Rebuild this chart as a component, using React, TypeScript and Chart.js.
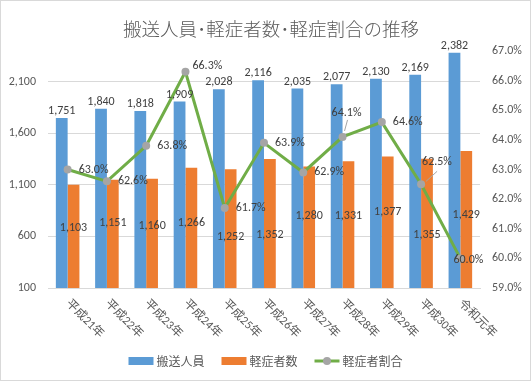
import React, { useEffect, useRef } from 'react';
import { Chart, registerables } from 'chart.js';

Chart.register(...registerables);

const chartTitle = '搬送人員･軽症者数･軽症割合の推移';
const categories = ['平成21年', '平成22年', '平成23年', '平成24年', '平成25年', '平成26年', '平成27年', '平成28年', '平成29年', '平成30年', '令和元年'];
const transported = [1751, 1840, 1818, 1909, 2028, 2116, 2035, 2077, 2130, 2169, 2382];
const mildCases = [1103, 1151, 1160, 1266, 1252, 1352, 1280, 1331, 1377, 1355, 1429];
const mildRatio = [63.0, 62.6, 63.8, 66.3, 61.7, 63.9, 62.9, 64.1, 64.6, 62.5, 60.0];
const leftTicks = [100, 600, 1100, 1600, 2100];
const seriesNames = ['搬送人員', '軽症者数', '軽症者割合'];

// label placement (style only)
const ratioLabelPlacement = ['right', 'right', 'right', 'upright', 'right', 'right', 'right', 'above', 'right', 'aboveright', 'center'];
const mildLabelNudge = [-13, -16, -13, -10, 3, 6, -16, -14, -15, 7, -10];

const BLUE = '#5B9BD5';
const ORANGE = '#ED7D31';
const GREEN = '#70AD47';
const GRAY = '#A5A5A5';
const TEXT = '#595959';
const LABEL = '#404040';
const NUMFONT = 'Carlito, "Liberation Sans", "Noto Sans CJK JP", sans-serif';
const JPFONT = '"Noto Sans CJK JP", sans-serif';

const fmt = (v: number) => v.toLocaleString('en-US');

const overlayPlugin = {
  id: 'overlay',
  beforeDraw(chart: any) {
    const ctx = chart.ctx;
    ctx.save();
    ctx.fillStyle = '#ffffff';
    ctx.fillRect(0, 0, chart.width, chart.height);
    ctx.restore();
  },
  afterDatasetsDraw(chart: any) {
    const ctx = chart.ctx;
    ctx.save();
    ctx.font = `12px ${NUMFONT}`;
    ctx.fillStyle = LABEL;
    const m0 = chart.getDatasetMeta(0);
    const m1 = chart.getDatasetMeta(1);
    const m2 = chart.getDatasetMeta(2);
    m0.data.forEach((el: any, i: number) => {
      ctx.textAlign = 'center';
      ctx.textBaseline = 'bottom';
      ctx.fillText(fmt(transported[i]), el.x, el.y - 1);
    });
    m1.data.forEach((el: any, i: number) => {
      ctx.textAlign = 'center';
      ctx.textBaseline = 'middle';
      ctx.fillText(fmt(mildCases[i]), el.x, (el.y + el.base) / 2 + mildLabelNudge[i]);
    });
    m2.data.forEach((el: any, i: number) => {
      const t = mildRatio[i].toFixed(1) + '%';
      const p = ratioLabelPlacement[i];
      ctx.textBaseline = 'middle';
      ctx.fillStyle = LABEL;
      if (p === 'right') {
        ctx.textAlign = 'left';
        ctx.fillText(t, el.x + 11, el.y);
      } else if (p === 'upright') {
        ctx.textAlign = 'left';
        ctx.fillText(t, el.x + 7, el.y - 6);
      } else if (p === 'above') {
        ctx.strokeStyle = GRAY;
        ctx.lineWidth = 1;
        ctx.beginPath();
        ctx.moveTo(el.x + 2, el.y - 6);
        ctx.lineTo(el.x + 5, el.y - 17);
        ctx.stroke();
        ctx.textAlign = 'center';
        ctx.fillText(t, el.x + 4, el.y - 24);
      } else if (p === 'aboveright') {
        ctx.strokeStyle = GRAY;
        ctx.lineWidth = 1;
        ctx.beginPath();
        ctx.moveTo(el.x + 5, el.y - 3);
        ctx.lineTo(el.x + 16, el.y - 13);
        ctx.stroke();
        ctx.textAlign = 'left';
        ctx.fillText(t, el.x + 1, el.y - 22);
      } else {
        ctx.textAlign = 'center';
        ctx.fillText(t, el.x + 8, el.y + 2);
      }
    });
    ctx.restore();
  },
  afterDraw(chart: any) {
    const ctx = chart.ctx;
    ctx.save();
    // border
    ctx.strokeStyle = '#D9D9D9';
    ctx.lineWidth = 1;
    ctx.strokeRect(0.5, 0.5, chart.width - 1, chart.height - 1);
    // title
    ctx.fillStyle = TEXT;
    ctx.font = `300 18.5px ${JPFONT}`;
    ctx.textAlign = 'center';
    ctx.textBaseline = 'middle';
    ctx.fillText(chartTitle, 271, 29);
    // x labels rotated
    const xs = chart.scales.x;
    const area = chart.chartArea;
    ctx.font = `12px ${NUMFONT}`;
    categories.forEach((c, i) => {
      const x = xs.getPixelForValue(i);
      ctx.save();
      ctx.translate(x, area.bottom + 14);
      ctx.rotate(Math.PI / 4);
      ctx.textAlign = 'left';
      ctx.textBaseline = 'middle';
      ctx.fillStyle = TEXT;
      ctx.fillText(c, 0, 0);
      ctx.restore();
    });
    // legend
    ctx.font = `12px ${JPFONT}`;
    const sw = 25, gap = 3, itemGap = 17;
    const widths = seriesNames.map((n) => sw + gap + ctx.measureText(n).width);
    const total = widths.reduce((a, b) => a + b, 0) + itemGap * (seriesNames.length - 1);
    let lx = chart.width / 2 - total / 2;
    const ly = 361;
    seriesNames.forEach((n, i) => {
      if (i === 0 || i === 1) {
        ctx.fillStyle = i === 0 ? BLUE : ORANGE;
        ctx.fillRect(lx, ly - 4, sw, 8);
      } else {
        ctx.strokeStyle = GREEN;
        ctx.lineWidth = 3;
        ctx.beginPath();
        ctx.moveTo(lx, ly);
        ctx.lineTo(lx + sw, ly);
        ctx.stroke();
        ctx.fillStyle = GRAY;
        ctx.beginPath();
        ctx.arc(lx + sw / 2, ly, 4, 0, Math.PI * 2);
        ctx.fill();
      }
      ctx.fillStyle = TEXT;
      ctx.textAlign = 'left';
      ctx.textBaseline = 'middle';
      ctx.fillText(n, lx + sw + gap, ly);
      lx += widths[i] + itemGap;
    });
    ctx.restore();
  },
};

export default function App() {
  const ref = useRef<HTMLCanvasElement>(null);
  useEffect(() => {
    if (!ref.current) return;
    const chart = new Chart(ref.current, {
      type: 'bar',
      data: {
        labels: categories,
        datasets: [
          { type: 'bar', label: seriesNames[0], data: transported, backgroundColor: BLUE, yAxisID: 'y', order: 2, categoryPercentage: 0.6, barPercentage: 1.0 },
          { type: 'bar', label: seriesNames[1], data: mildCases, backgroundColor: ORANGE, yAxisID: 'y', order: 2, categoryPercentage: 0.6, barPercentage: 1.0 },
          {
            type: 'line', label: seriesNames[2], data: mildRatio, yAxisID: 'y1', order: 1,
            borderColor: GREEN, borderWidth: 3, tension: 0,
            pointRadius: 4, pointBackgroundColor: GRAY, pointBorderColor: GRAY, pointBorderWidth: 0,
          },
        ] as any,
      },
      options: {
        responsive: false,
        animation: false,
        layout: { padding: { top: 51, bottom: 0, left: 0, right: 0 } },
        plugins: { legend: { display: false }, title: { display: false }, tooltip: { enabled: false } },
        scales: {
          x: {
            grid: { display: false },
            border: { display: true, color: '#D9D9D9' },
            ticks: { display: false },
            afterFit: (s: any) => { s.height = 93; },
          },
          y: {
            position: 'left',
            min: 100,
            max: 2400,
            afterBuildTicks: (s: any) => { s.ticks = leftTicks.map((v) => ({ value: v })); },
            grid: { color: '#D9D9D9', drawTicks: false },
            border: { display: false },
            ticks: { padding: 12, color: TEXT, font: { size: 12, family: NUMFONT }, callback: (v: any) => fmt(Number(v)) },
            afterFit: (s: any) => { s.width = 48; },
          },
          y1: {
            position: 'right',
            min: 59,
            max: 67,
            grid: { display: false, drawTicks: false },
            border: { display: false },
            ticks: { stepSize: 1, padding: 12, color: TEXT, font: { size: 12, family: NUMFONT }, callback: (v: any) => Number(v).toFixed(1) + '%' },
            afterFit: (s: any) => { s.width = 51; },
          },
        },
      } as any,
      plugins: [overlayPlugin],
    });
    return () => chart.destroy();
  }, []);
  return (
    <div style={{ position: 'fixed', left: 0, top: 0, width: 531, height: 381 }}>
      <canvas ref={ref} width={531} height={381} style={{ width: 531, height: 381 }} />
    </div>
  );
}
